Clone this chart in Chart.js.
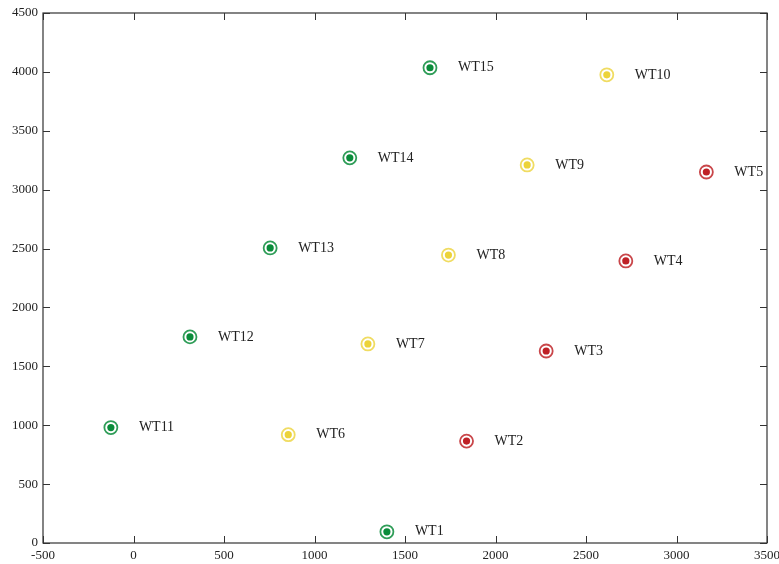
<!DOCTYPE html>
<html>
<head>
<meta charset="utf-8">
<script src="https://cdn.jsdelivr.net/npm/chart.js@4"></script>
<style>
  html, body { margin: 0; padding: 0; background: #fff; }
  #wrap { width: 779px; height: 564px; }
</style>
</head>
<body>
<div id="wrap"><canvas id="turbines" width="779" height="564"></canvas></div>
<script>
// turbine layout
const names = ['WT1','WT2','WT3','WT4','WT5','WT6','WT7','WT8','WT9','WT10','WT11','WT12','WT13','WT14','WT15'];
const xPos = [1400, 1840, 2280, 2720, 3165, 855, 1295, 1740, 2175, 2615, -125, 312, 755, 1195, 1638];
const yPos = [95, 865, 1630, 2395, 3150, 920, 1690, 2445, 3210, 3975, 980, 1750, 2505, 3270, 4035];
const groups = ['green','red','red','red','red','yellow','yellow','yellow','yellow','yellow','green','green','green','green','green'];
const xTicks = [-500, 0, 500, 1000, 1500, 2000, 2500, 3000, 3500];
const yTicks = [0, 500, 1000, 1500, 2000, 2500, 3000, 3500, 4000, 4500];

const colors = { green: '#0a8c3a', yellow: '#ecd33a', red: '#bf2126' };
const ringColors = { green: '#2f9d58', yellow: '#f0dc62', red: '#c9464a' };
const serif = '"Liberation Serif", "DejaVu Serif", serif';

const datasets = [];
Object.keys(colors).forEach(g => {
  const pts = [];
  names.forEach((n, i) => { if (groups[i] === g) pts.push({ x: xPos[i], y: yPos[i], name: n }); });
  // outer ring
  datasets.push({
    data: pts, showLine: false,
    pointRadius: 6.5, pointHoverRadius: 6.5,
    pointBackgroundColor: 'rgba(0,0,0,0)',
    pointBorderColor: ringColors[g], pointBorderWidth: 1.8
  });
  // inner dot
  datasets.push({
    data: pts, showLine: false, labelled: true,
    pointRadius: 3.6, pointHoverRadius: 3.6,
    pointBackgroundColor: colors[g],
    pointBorderColor: colors[g], pointBorderWidth: 0
  });
});

const frame = {
  id: 'frame',
  afterDatasetsDraw(chart) {
    const { ctx, chartArea: a, scales } = chart;
    ctx.save();
    ctx.strokeStyle = '#333';
    ctx.lineWidth = 1.2;
    ctx.strokeRect(a.left, a.top, a.right - a.left, a.bottom - a.top);
    ctx.lineWidth = 1;
    ctx.beginPath();
    xTicks.forEach(v => {
      const px = Math.round(scales.x.getPixelForValue(v)) + 0.5;
      ctx.moveTo(px, a.bottom); ctx.lineTo(px, a.bottom - 7);
      ctx.moveTo(px, a.top); ctx.lineTo(px, a.top + 7);
    });
    yTicks.forEach(v => {
      const py = Math.round(scales.y.getPixelForValue(v)) + 0.5;
      ctx.moveTo(a.left, py); ctx.lineTo(a.left + 7, py);
      ctx.moveTo(a.right, py); ctx.lineTo(a.right - 7, py);
    });
    ctx.stroke();

    // turbine names
    ctx.fillStyle = '#222';
    ctx.font = '14px ' + serif;
    ctx.textBaseline = 'middle';
    chart.data.datasets.forEach((ds, di) => {
      if (!ds.labelled) return;
      chart.getDatasetMeta(di).data.forEach((el, i) => {
        ctx.fillText(ds.data[i].name, el.x + 28, el.y);
      });
    });
    ctx.restore();
  }
};

new Chart(document.getElementById('turbines'), {
  type: 'scatter',
  data: { datasets },
  options: {
    responsive: false,
    animation: false,
    events: [],
    layout: { padding: { top: 13, right: 12, left: 0, bottom: 0 } },
    plugins: { legend: { display: false }, tooltip: { enabled: false } },
    scales: {
      x: {
        type: 'linear', min: -500, max: 3500,
        afterBuildTicks: s => { s.ticks = xTicks.map(v => ({ value: v })); },
        afterFit: s => { s.height = 21; s.paddingLeft = 0; s.paddingRight = 0; },
        grid: { display: false, drawTicks: false },
        border: { display: false },
        ticks: { padding: 5, maxRotation: 0, color: '#222', callback: v => String(v), font: { family: serif, size: 13 } }
      },
      y: {
        type: 'linear', min: 0, max: 4500,
        afterBuildTicks: s => { s.ticks = yTicks.map(v => ({ value: v })); },
        afterFit: s => { s.width = 43; s.paddingTop = 0; s.paddingBottom = 0; },
        grid: { display: false, drawTicks: false },
        border: { display: false },
        ticks: { padding: 5, color: '#222', callback: v => String(v), font: { family: serif, size: 13 } }
      }
    }
  },
  plugins: [frame]
});
</script>
</body>
</html>
